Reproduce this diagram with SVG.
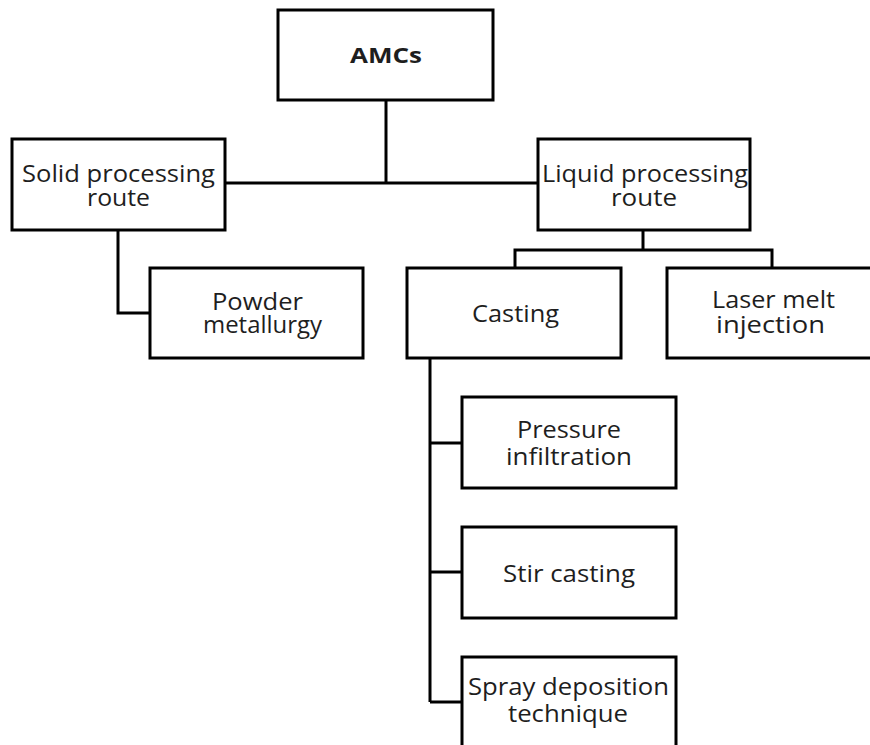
<svg xmlns="http://www.w3.org/2000/svg" width="870" height="745" viewBox="0 0 870 745">
  <style>
    .box { fill: #ffffff; stroke: #000000; stroke-width: 3; }
    .link { fill: none; stroke: #000000; stroke-width: 3; }
    .label { font-family: "Open Sans", "DejaVu Sans", sans-serif; font-size: 24px; fill: #1e1e1e; text-anchor: middle; }
    .bold { font-weight: bold; font-size: 22px; }
  </style>
  <rect width="870" height="745" fill="#ffffff"/>

  <!-- connectors -->
  <g id="connectors" class="link">
    <path d="M386 100 V183"/>
    <path d="M225 183 H538"/>
    <path d="M118 230 V313 H150"/>
    <path d="M643 230 V250"/>
    <path d="M515 268 V250 H772 V268"/>
    <path d="M430 358 V702"/>
    <path d="M430 443 H462"/>
    <path d="M430 572 H462"/>
    <path d="M430 702 H462"/>
  </g>

  <g id="amcs">
    <rect class="box" x="278" y="10" width="215" height="90"/>
    <text class="label bold" x="386" y="63" textLength="72" lengthAdjust="spacingAndGlyphs">AMCs</text>
  </g>

  <g id="solid">
    <rect class="box" x="12" y="139" width="213" height="91"/>
    <text class="label" x="118.5" y="182" textLength="193" lengthAdjust="spacingAndGlyphs">Solid processing</text>
    <text class="label" x="118.5" y="206" textLength="63" lengthAdjust="spacingAndGlyphs">route</text>
  </g>

  <g id="liquid">
    <rect class="box" x="538" y="139" width="212" height="91"/>
    <text class="label" x="645" y="182" textLength="206" lengthAdjust="spacingAndGlyphs">Liquid processing</text>
    <text class="label" x="644" y="206" textLength="66" lengthAdjust="spacingAndGlyphs">route</text>
  </g>

  <g id="powder">
    <rect class="box" x="150" y="268" width="213" height="90"/>
    <text class="label" x="257.5" y="310" textLength="91" lengthAdjust="spacingAndGlyphs">Powder</text>
    <text class="label" x="262.5" y="333" textLength="119" lengthAdjust="spacingAndGlyphs">metallurgy</text>
  </g>

  <g id="casting">
    <rect class="box" x="407" y="268" width="214" height="90"/>
    <text class="label" x="515.5" y="322" textLength="87" lengthAdjust="spacingAndGlyphs">Casting</text>
  </g>

  <g id="laser">
    <rect class="box" x="667" y="268" width="213" height="90"/>
    <text class="label" x="773.5" y="308" textLength="123" lengthAdjust="spacingAndGlyphs">Laser melt</text>
    <text class="label" x="770.5" y="333" textLength="109" lengthAdjust="spacingAndGlyphs">injection</text>
  </g>

  <g id="pressure">
    <rect class="box" x="462" y="397" width="214" height="91"/>
    <text class="label" x="569" y="438" textLength="104" lengthAdjust="spacingAndGlyphs">Pressure</text>
    <text class="label" x="569" y="465" textLength="126" lengthAdjust="spacingAndGlyphs">infiltration</text>
  </g>

  <g id="stir">
    <rect class="box" x="462" y="527" width="214" height="91"/>
    <text class="label" x="569" y="582" textLength="132" lengthAdjust="spacingAndGlyphs">Stir casting</text>
  </g>

  <g id="spray">
    <rect class="box" x="462" y="657" width="214" height="91"/>
    <text class="label" x="568.5" y="695" textLength="201" lengthAdjust="spacingAndGlyphs">Spray deposition</text>
    <text class="label" x="568" y="722" textLength="120" lengthAdjust="spacingAndGlyphs">technique</text>
  </g>
</svg>
